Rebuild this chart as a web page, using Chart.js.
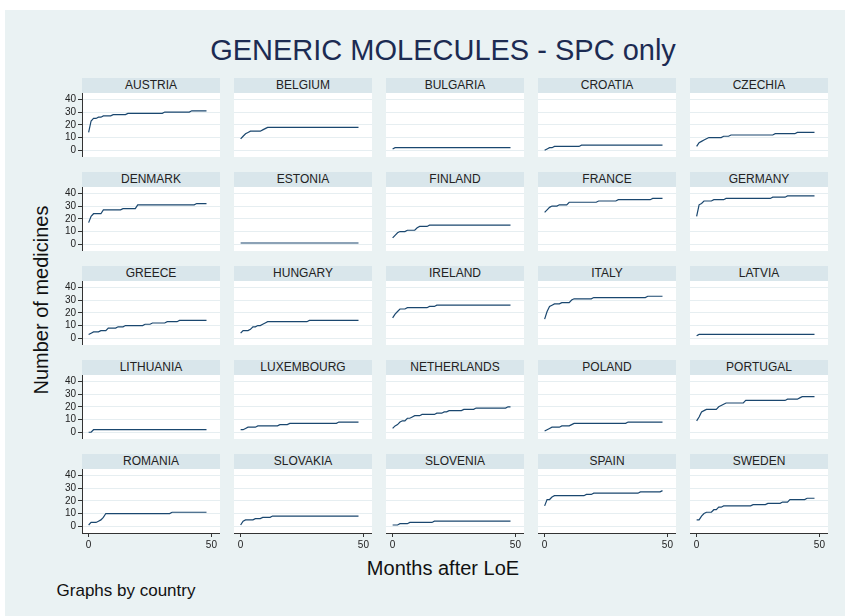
<!DOCTYPE html>
<html>
<head>
<meta charset="utf-8">
<script src="https://cdn.jsdelivr.net/npm/chart.js@4"></script>
<style>
body { margin: 0; background: #fff; font-family: "Liberation Sans", Arial, sans-serif; }
#bg { position: absolute; left: 5px; top: 10px; width: 840px; height: 606px; background: #eaf2f3; }
.strip { position: absolute; height: 15px; background: #d9e6eb; text-align: center; font-size: 12px; line-height: 15px; color: #222; }
.txt { position: absolute; white-space: nowrap; transform: translate(-50%, -50%); }
canvas { position: absolute; }
</style>
</head>
<body>
<div id="bg"></div>
<div class="txt" style="left:443px;top:50px;font-size:29px;color:#1c2b52;">GENERIC MOLECULES - SPC only</div>
<div class="txt" style="left:41px;top:300px;font-size:20px;color:#111;transform:translate(-50%,-50%) rotate(-90deg);">Number of medicines</div>
<div class="txt" style="left:443px;top:568px;font-size:20px;color:#111;">Months after LoE</div>
<div class="txt" style="left:126px;top:591px;font-size:17px;color:#111;">Graphs by country</div>
<div id="panels"></div>
<script>
const months = [0,1,2,3,4,5,6,7,8,9,10,11,12,13,14,15,16,17,18,19,20,21,22,23,24,25,26,27,28,29,30,31,32,33,34,35,36,37,38,39,40,41,42,43,44,45,46,47,48];
const yTicks = [0, 10, 20, 30, 40];
const xTicks = [0, 50];

const countries = ["AUSTRIA","BELGIUM","BULGARIA","CROATIA","CZECHIA",
  "DENMARK","ESTONIA","FINLAND","FRANCE","GERMANY",
  "GREECE","HUNGARY","IRELAND","ITALY","LATVIA",
  "LITHUANIA","LUXEMBOURG","NETHERLANDS","POLAND","PORTUGAL",
  "ROMANIA","SLOVAKIA","SLOVENIA","SPAIN","SWEDEN"];

const austria = [14,23,25,25,26,26,27,27,27,27, 28,28,28,28,28,28,29,29,29,29, 29,29,29,29,29,29,29,29,29,29, 29,30,30,30,30,30,30,30,30,30, 30,30,31,31,31,31,31,31,31];
const belgium = [9,11,13,14,15,15,15,15,15,16, 17,18,18,18,18,18,18,18,18,18, 18,18,18,18,18,18,18,18,18,18, 18,18,18,18,18,18,18,18,18,18, 18,18,18,18,18,18,18,18,18];
const bulgaria = [1,2,2,2,2,2,2,2,2,2, 2,2,2,2,2,2,2,2,2,2, 2,2,2,2,2,2,2,2,2,2, 2,2,2,2,2,2,2,2,2,2, 2,2,2,2,2,2,2,2,2];
const croatia = [0,1,2,2,3,3,3,3,3,3, 3,3,3,3,3,4,4,4,4,4, 4,4,4,4,4,4,4,4,4,4, 4,4,4,4,4,4,4,4,4,4, 4,4,4,4,4,4,4,4,4];
const czechia = [3,6,7,8,9,10,10,10,10,10, 10,11,11,11,12,12,12,12,12,12, 12,12,12,12,12,12,12,12,12,12, 12,12,13,13,13,13,13,13,13,13, 13,14,14,14,14,14,14,14,14];
const denmark = [17,22,24,24,24,24,27,27,27,27, 27,27,27,27,28,28,28,28,28,28, 31,31,31,31,31,31,31,31,31,31, 31,31,31,31,31,31,31,31,31,31, 31,31,31,31,32,32,32,32,32];
const estonia = [1,1,1,1,1,1,1,1,1,1, 1,1,1,1,1,1,1,1,1,1, 1,1,1,1,1,1,1,1,1,1, 1,1,1,1,1,1,1,1,1,1, 1,1,1,1,1,1,1,1,1];
const finland = [5,7,9,10,10,10,11,11,11,11, 13,14,14,14,14,15,15,15,15,15, 15,15,15,15,15,15,15,15,15,15, 15,15,15,15,15,15,15,15,15,15, 15,15,15,15,15,15,15,15,15];
const france = [25,27,29,30,30,30,31,31,31,31, 33,33,33,33,33,33,33,33,33,33, 33,33,34,34,34,34,34,34,34,34, 35,35,35,35,35,35,35,35,35,35, 35,35,35,35,36,36,36,36,36];
const germany = [22,31,32,34,34,34,34,35,35,35, 35,35,36,36,36,36,36,36,36,36, 36,36,36,36,36,36,36,36,36,36, 36,37,37,37,37,37,37,38,38,38, 38,38,38,38,38,38,38,38,38];
const greece = [3,4,5,5,5,6,6,6,8,8, 8,8,9,9,9,10,10,10,10,10, 10,10,10,11,11,11,12,12,12,12, 12,12,13,13,13,13,13,14,14,14, 14,14,14,14,14,14,14,14,14];
const hungary = [4,6,6,6,7,9,9,10,10,11, 12,13,13,13,13,13,13,13,13,13, 13,13,13,13,13,13,13,13,14,14, 14,14,14,14,14,14,14,14,14,14, 14,14,14,14,14,14,14,14,14];
const ireland = [16,19,21,23,23,23,24,24,24,24, 24,24,24,24,24,25,25,25,26,26, 26,26,26,26,26,26,26,26,26,26, 26,26,26,26,26,26,26,26,26,26, 26,26,26,26,26,26,26,26,26];
const italy = [15,21,25,26,27,27,27,28,28,28, 28,30,31,31,31,31,31,31,31,31, 32,32,32,32,32,32,32,32,32,32, 32,32,32,32,32,32,32,32,32,32, 32,32,33,33,33,33,33,33,33];
const latvia = [2,3,3,3,3,3,3,3,3,3, 3,3,3,3,3,3,3,3,3,3, 3,3,3,3,3,3,3,3,3,3, 3,3,3,3,3,3,3,3,3,3, 3,3,3,3,3,3,3,3,3];
const lithuania = [0,0,2,2,2,2,2,2,2,2, 2,2,2,2,2,2,2,2,2,2, 2,2,2,2,2,2,2,2,2,2, 2,2,2,2,2,2,2,2,2,2, 2,2,2,2,2,2,2,2,2];
const luxembourg = [2,2,3,4,4,4,4,5,5,5, 5,5,5,5,5,5,6,6,6,6, 7,7,7,7,7,7,7,7,7,7, 7,7,7,7,7,7,7,7,7,7, 8,8,8,8,8,8,8,8,8];
const netherlands = [3,5,6,8,9,9,11,11,12,13, 13,13,14,14,14,14,14,14,15,15, 15,16,16,17,17,17,17,17,17,18, 18,18,18,18,19,19,19,19,19,19, 19,19,19,19,19,19,19,20,20];
const poland = [1,2,3,4,4,4,4,5,5,5, 5,6,7,7,7,7,7,7,7,7, 7,7,7,7,7,7,7,7,7,7, 7,7,7,7,8,8,8,8,8,8, 8,8,8,8,8,8,8,8,8];
const portugal = [9,12,16,17,18,18,18,18,18,20, 21,22,23,23,23,23,23,23,23,23, 25,25,25,25,25,25,25,25,25,25, 25,25,25,25,25,25,25,26,26,26, 26,26,27,28,28,28,28,28,28];
const romania = [1,3,3,3,4,5,7,10,10,10, 10,10,10,10,10,10,10,10,10,10, 10,10,10,10,10,10,10,10,10,10, 10,10,10,10,11,11,11,11,11,11, 11,11,11,11,11,11,11,11,11];
const slovakia = [1,4,5,5,5,5,6,6,6,7, 7,7,7,8,8,8,8,8,8,8, 8,8,8,8,8,8,8,8,8,8, 8,8,8,8,8,8,8,8,8,8, 8,8,8,8,8,8,8,8,8];
const slovenia = [1,1,1,2,2,2,2,3,3,3, 3,3,3,3,3,3,3,4,4,4, 4,4,4,4,4,4,4,4,4,4, 4,4,4,4,4,4,4,4,4,4, 4,4,4,4,4,4,4,4,4];
const spain = [16,21,21,23,24,24,24,24,24,24, 24,24,24,24,24,24,24,25,25,25, 26,26,26,26,26,26,26,26,26,26, 26,26,26,26,26,26,26,26,26,27, 27,27,27,27,27,27,27,27,28];
const sweden = [5,5,8,10,11,11,11,13,13,15, 15,16,16,16,16,16,16,16,16,16, 16,16,16,17,17,17,17,17,17,18, 18,18,18,18,18,19,19,19,21,21, 21,21,21,21,21,22,22,22,22];

const series = [austria, belgium, bulgaria, croatia, czechia,
  denmark, estonia, finland, france, germany,
  greece, hungary, ireland, italy, latvia,
  lithuania, luxembourg, netherlands, poland, portugal,
  romania, slovakia, slovenia, spain, sweden];

// panel layout
const colX = [82, 234, 386, 538, 690];
const rowY = [78, 172, 266, 360, 454];
const panelW = 138, stripH = 15, plotH = 64;
const yAxisW = 30, xAxisH = 24;

const plotBg = {
	id: 'plotBg',
	beforeDraw(chart) {
		const { ctx, chartArea: a } = chart;
		ctx.save();
		ctx.fillStyle = '#ffffff';
		ctx.fillRect(a.left, a.top, a.right - a.left, a.bottom - a.top);
		ctx.restore();
	}
};

const holder = document.getElementById('panels');

countries.forEach((name, i) => {
	const r = Math.floor(i / 5), c = i % 5;
	const strip = document.createElement('div');
	strip.className = 'strip';
	strip.style.left = colX[c] + 'px';
	strip.style.top = rowY[r] + 'px';
	strip.style.width = panelW + 'px';
	strip.textContent = name;
	holder.appendChild(strip);

	const firstCol = c === 0, lastRow = r === 4;
	const w = panelW + (firstCol ? yAxisW : 0);
	const h = plotH + (lastRow ? xAxisH : 0);
	const cv = document.createElement('canvas');
	cv.width = w; cv.height = h;
	cv.style.left = (colX[c] - (firstCol ? yAxisW : 0)) + 'px';
	cv.style.top = (rowY[r] + stripH) + 'px';
	cv.style.width = w + 'px'; cv.style.height = h + 'px';
	holder.appendChild(cv);

	new Chart(cv.getContext('2d'), {
		type: 'line',
		data: {
			datasets: [{
				data: months.map((m, k) => ({ x: m, y: series[i][k] })),
				borderColor: '#1a476f',
				borderWidth: 1.2,
				pointRadius: 0,
				tension: 0,
				fill: false
			}]
		},
		options: {
			responsive: false,
			animation: false,
			events: [],
			layout: { padding: 0 },
			plugins: { legend: { display: false }, tooltip: { enabled: false } },
			scales: {
				x: {
					type: 'linear',
					min: -2.7,
					max: 53.5,
					display: lastRow,
					afterBuildTicks: s => { s.ticks = xTicks.map(v => ({ value: v })); },
					afterFit: s => {
						s.height = lastRow ? xAxisH : 0;
						s.paddingLeft = 0; s.paddingRight = 0;
					},
					grid: { drawOnChartArea: false, tickLength: 4, tickColor: '#333', tickWidth: 1 },
					border: { color: '#333', width: 1 },
					ticks: { color: '#222', font: { size: 10, family: 'Liberation Sans' }, padding: 2, maxRotation: 0, autoSkip: false }
				},
				y: {
					type: 'linear',
					min: -5.3,
					max: 45,
					afterBuildTicks: s => { s.ticks = yTicks.map(v => ({ value: v })); },
					afterFit: s => {
						s.width = firstCol ? yAxisW : 0;
						s.paddingTop = 0; s.paddingBottom = 0;
					},
					grid: { color: '#e6eef1', lineWidth: 1, drawTicks: firstCol, tickLength: 4, tickColor: '#333' },
					border: { display: firstCol, color: '#333', width: 1 },
					ticks: { display: firstCol, color: '#222', font: { size: 10, family: 'Liberation Sans' }, padding: 2, autoSkip: false }
				}
			}
		},
		plugins: [plotBg]
	});
});
</script>
</body>
</html>
